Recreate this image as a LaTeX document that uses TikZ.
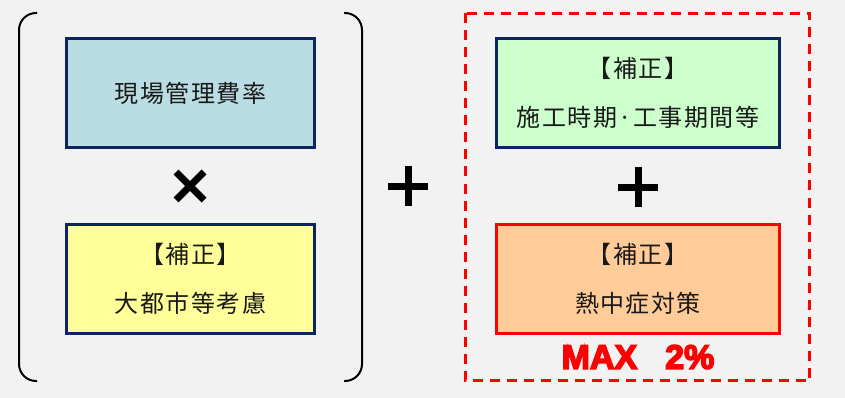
\documentclass[tikz,border=0pt]{standalone}
\usepackage{fontspec}
\newfontfamily\jp[LetterSpace=6]{Noto Sans CJK JP}
\newfontfamily\maxfont[FakeBold=4.5]{Liberation Sans Bold}
\definecolor{bg}{RGB}{242,242,242}
\definecolor{navy}{RGB}{14,36,96}
\definecolor{bluefill}{RGB}{185,221,226}
\definecolor{yellowfill}{RGB}{255,255,153}
\definecolor{greenfill}{RGB}{204,255,204}
\definecolor{orangefill}{RGB}{255,204,153}
\definecolor{redline}{RGB}{255,0,0}
\tikzset{
  box/.style={draw=navy, line width=3pt, minimum height=109pt, inner sep=0pt,
    align=center, font=\jp\fontsize{24}{49}\selectfont, text=black!90},
  leftbox/.style={box, minimum width=248pt},
  rightbox/.style={box, minimum width=283pt},
  paren/.style={draw=black, line width=2pt, rounded corners=17pt},
  opsign/.style={draw=black, line width=7pt},
  maxframe/.style={draw=redline, line width=3pt, dash pattern=on 10pt off 7pt}
}
\begin{document}
\begin{tikzpicture}[x=1pt,y=-1pt]
\fill[bg] (0,0) rectangle (845,398);
\useasboundingbox (0,0) rectangle (845,398);
% parentheses
\coordinate (pl1) at (37,13);
\coordinate (pl2) at (37,381);
\coordinate (pr1) at (344,13);
\coordinate (pr2) at (344,381);
\draw[paren] (pl1) -- (19,13) -- (19,381) -- (pl2);
\draw[paren] (pr1) -- (362,13) -- (362,381) -- (pr2);
% left boxes
\node[leftbox, fill=bluefill] (genba) at (190.5,93) {現場管理費率};
\node[leftbox, fill=yellowfill] (toshi) at (190.5,279) {【補正】\\大都市等考慮};
% times sign
\coordinate (xc) at (190,186);
\draw[opsign] ([shift={(-14,-14)}]xc) -- ([shift={(14,14)}]xc);
\draw[opsign] ([shift={(-14,14)}]xc) -- ([shift={(14,-14)}]xc);
% big plus
\coordinate (pc) at (408,186);
\draw[opsign] ([shift={(-20,0)}]pc) -- ([shift={(20,0)}]pc);
\draw[opsign] ([shift={(0,-20)}]pc) -- ([shift={(0,20)}]pc);
% dashed frame
\draw[maxframe] (465.5,13.5) rectangle (809.5,380.5);
% right boxes
\node[rightbox, fill=greenfill] (sekou) at (638,93) {【補正】\\施工時期·工事期間等};
\node[rightbox, fill=orangefill, draw=redline] (necchu) at (638,279) {【補正】\\熱中症対策};
% inner plus
\coordinate (pc2) at (638,187);
\draw[opsign] ([shift={(-20,0)}]pc2) -- ([shift={(20,0)}]pc2);
\draw[opsign] ([shift={(0,-20)}]pc2) -- ([shift={(0,20)}]pc2);
% MAX label
\node[text=redline, font=\maxfont\fontsize{34}{34}\selectfont, inner sep=0pt] (maxlabel) at (638,357) {MAX\hspace{28pt}2\%};
\end{tikzpicture}
\end{document}
